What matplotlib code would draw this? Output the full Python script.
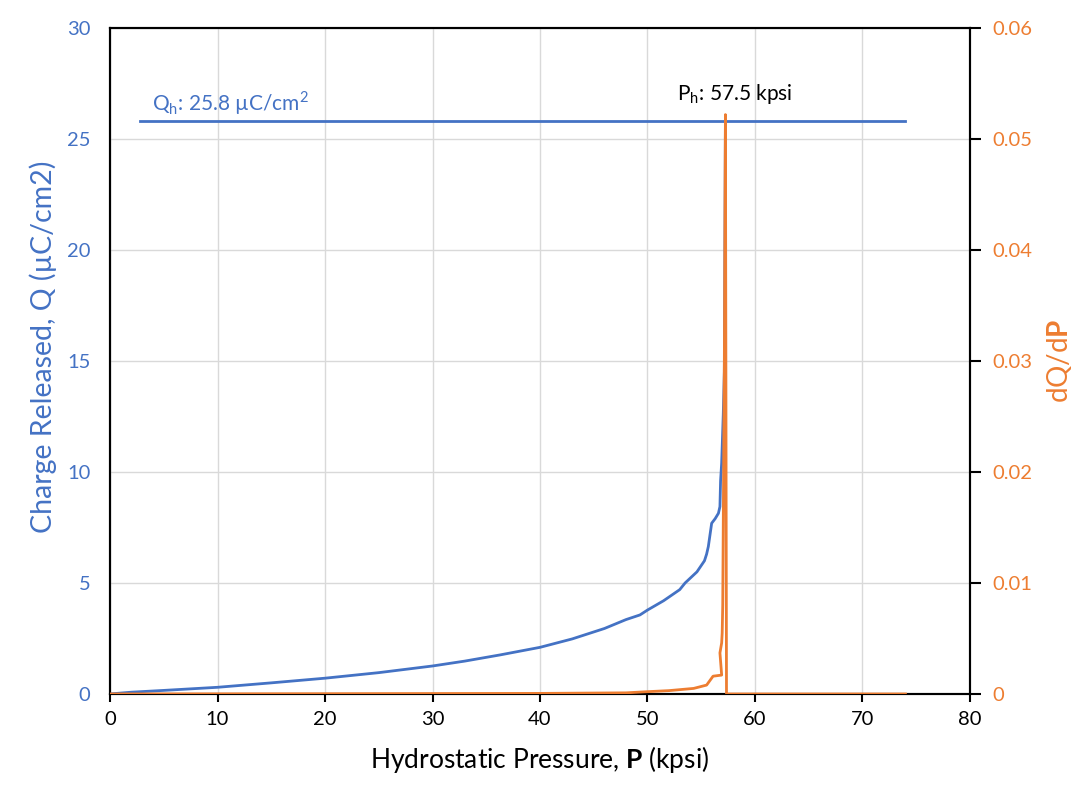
import matplotlib.pyplot as plt

plt.rcParams['font.family'] = ['Lato', 'DejaVu Sans']
plt.rcParams['mathtext.fontset'] = 'custom'
plt.rcParams['mathtext.rm'] = 'Lato'
plt.rcParams['mathtext.bf'] = 'Lato:bold'

# Charge released curve
pressure = [0.0, 2.0, 5.0, 10.0, 15.0, 20.0, 25.0, 30.0, 33.0, 36.3, 40.0, 43.0, 46.0,
            48.0, 49.3, 50.0, 51.5, 53.0, 53.5, 54.6, 55.3, 55.5, 55.66, 55.97, 56.3,
            56.6, 56.74, 56.8, 56.9, 57.05, 57.15, 57.25]
charge = [0.0, 0.08, 0.16, 0.30, 0.50, 0.71, 0.96, 1.26, 1.48, 1.76, 2.10, 2.48, 2.95,
          3.35, 3.56, 3.78, 4.20, 4.70, 5.00, 5.50, 6.00, 6.30, 6.64, 7.69, 7.90,
          8.14, 8.44, 9.60, 10.4, 12.6, 14.5, 25.8]

# dQ/dP curve
pressure_d = [0.0, 20.0, 40.0, 48.0, 49.9, 52.0, 54.3, 55.5, 56.1, 56.9, 56.74, 56.9,
              56.95, 57.0, 57.15, 57.25, 57.35, 60.0, 74.0]
dqdp = [0.0, 0.00002, 0.00005, 0.0001, 0.0002, 0.0003, 0.0005, 0.0008, 0.0016, 0.0017,
        0.0037, 0.0046, 0.0055, 0.0080, 0.030, 0.0522, 0.0, 0.0, 0.0]

qh = 25.8
ph = 57.5
qh_start = 2.8
qh_end = 74.0

blue = "#4472C4"
orange = "#ED7D31"

fig = plt.figure(figsize=(10.84, 7.94), dpi=100)
ax = fig.add_axes([0.1015, 0.126, 0.7933, 0.8387])
ax2 = ax.twinx()

ax.plot(pressure, charge, color=blue, linewidth=2.0, zorder=3)
ax.plot([qh_start, qh_end], [qh, qh], color=blue, linewidth=2.0, zorder=3)
ax2.plot(pressure_d, dqdp, color=orange, linewidth=2.0, zorder=3)

ax.set_xlim(0, 80)
ax.set_ylim(0, 30)
ax2.set_ylim(0, 0.06)
ax.set_xticks(range(0, 81, 10))
ax.set_yticks(range(0, 31, 5))
ax2.set_yticks([0, 0.01, 0.02, 0.03, 0.04, 0.05, 0.06])
ax2.set_yticklabels(["0", "0.01", "0.02", "0.03", "0.04", "0.05", "0.06"])

ax.grid(True, color="#D9D9D9", linewidth=1.0)
ax.set_axisbelow(True)

for a in (ax, ax2):
    for s in a.spines.values():
        s.set_color("black")
        s.set_linewidth(1.5)

ax.tick_params(axis="x", direction="out", length=6, width=1.5, labelsize=14.5,
               colors="black", pad=6)
ax.tick_params(axis="y", length=0, labelsize=14.5, labelcolor=blue, pad=14)
ax2.tick_params(axis="y", direction="out", length=8, width=1.5, labelsize=14.5,
                labelcolor=orange, pad=8)

ax.set_xlabel(r"Hydrostatic Pressure, $\mathbf{P}$ (kpsi)", fontsize=19, labelpad=12)
ax.set_ylabel("Charge Released, Q (µC/cm2)", fontsize=20.5, color=blue)
ax.yaxis.set_label_coords(-0.062, 0.521)
ax2.set_ylabel(r"dQ/d$\mathbf{P}$", fontsize=20, color=orange, labelpad=9)

ax.text(3.9, 26.3, r"Q$_\mathrm{h}$: 25.8 µC/cm$^\mathrm{2}$", color=blue, fontsize=15)
ax.text(52.7, 26.75, r"P$_\mathrm{h}$: 57.5 kpsi", color="black", fontsize=15)

fig.savefig("out.png", dpi=100)
